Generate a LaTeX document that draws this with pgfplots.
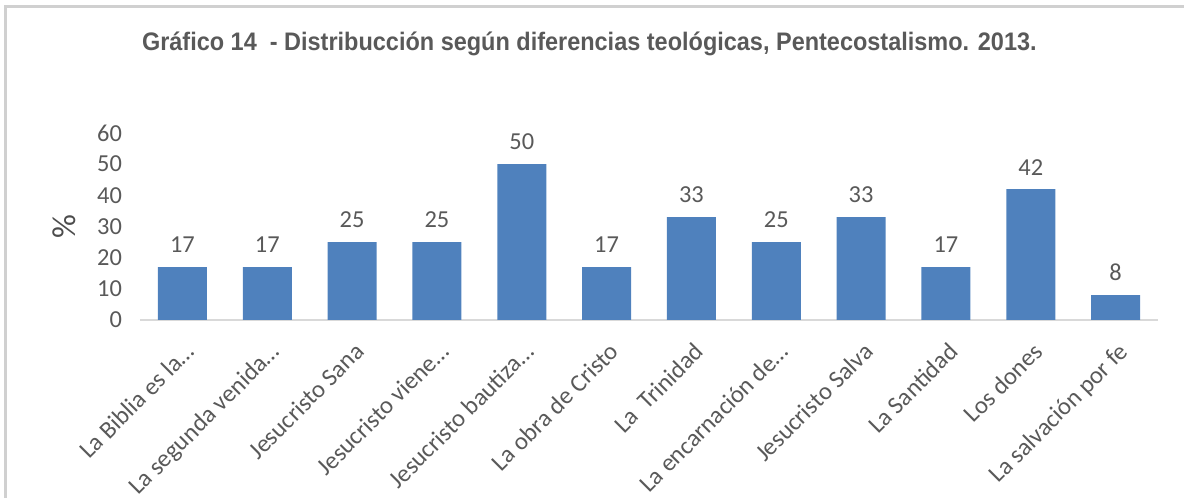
\documentclass[border=0pt]{standalone}
\usepackage{pgfplots}
\pgfplotsset{compat=1.18}
\usepackage{fontspec}
\setmainfont{Carlito}
\newfontfamily\titlefont{Liberation Sans}
\definecolor{barblue}{HTML}{4F81BD}
\definecolor{txtgray}{HTML}{595959}
\definecolor{axgray}{HTML}{D9D9D9}
\definecolor{framegray}{HTML}{D0D0D0}
\begin{document}
\begin{tikzpicture}
\path[use as bounding box] (0pt,0pt) rectangle (888pt,373.5pt);
\draw[framegray, line width=1.9pt] (4.1pt,0pt) -- (4.1pt,368.6pt) -- (888pt,368.6pt);
\node[anchor=base west, text=txtgray, inner sep=0] at (106.3pt,335.25pt)
  {\resizebox{671pt}{\height}{\titlefont\bfseries\fontsize{19}{22}\selectfont Gráfico 14\ \ - Distribucción según diferencias teológicas, Pentecostalismo. 2013.}};
\begin{axis}[
  at={(105pt,133.5pt)}, anchor=south west,
  scale only axis, width=763.5pt, height=140.25pt,
  xmin=-0.5, xmax=11.5, ymin=0, ymax=60,
  axis x line=bottom, axis y line=left,
  x axis line style={axgray, line width=1.2pt, -},
  y axis line style={draw=none},
  major tick length=0,
  ytick={0,10,...,60},
  xtick={0,...,11},
  xticklabels={La Biblia es la\dots, La segunda venida\dots, Jesucristo Sana, Jesucristo viene\dots, Jesucristo bautiza\dots, La obra de Cristo, La\ \ Trinidad, La encarnación de\dots, Jesucristo Salva, La Santidad, Los dones, La salvación por fe},
  /pgf/number format/assume math mode=true,
  yticklabel style={font=\fontsize{18.3}{20}\selectfont, text=txtgray, xshift=-10pt},
  xticklabel style={font=\fontsize{18.5}{20}\selectfont, text=txtgray, rotate=45, anchor=north east, xshift=-7pt, yshift=-8.5pt},
  ylabel={\%},
  every axis y label/.style={at={(axis description cs:-0.074,0.5)}, rotate=90, anchor=center, font=\fontsize{25}{28}\selectfont, text=txtgray!85!black},
  clip=false,
]
\addplot[ybar, bar width=36.75pt, fill=barblue, draw=none,
  nodes near coords,
  every node near coord/.append style={font=\fontsize{18.3}{20}\selectfont, text=txtgray, yshift=7pt}]
  coordinates {(0,17) (1,17) (2,25) (3,25) (4,50) (5,17) (6,33) (7,25) (8,33) (9,17) (10,42) (11,8)};
\end{axis}
\end{tikzpicture}
\end{document}
